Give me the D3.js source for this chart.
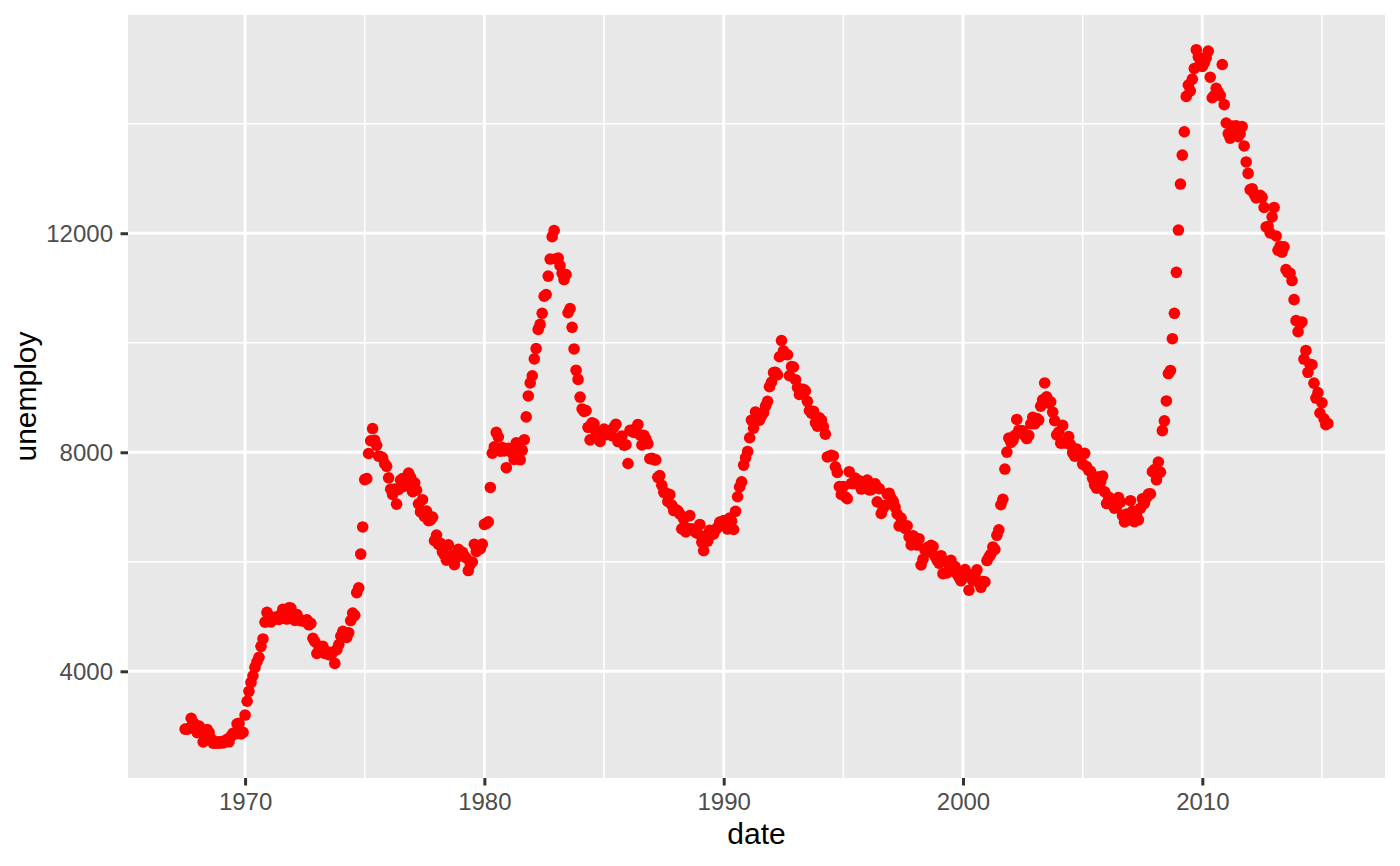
<!DOCTYPE html>
<html>
<head>
<meta charset="utf-8">
<script src="https://cdn.jsdelivr.net/npm/d3@7"></script>
<style>
  html, body { margin: 0; padding: 0; background: #ffffff; }
  svg { display: block; }
  text { font-family: "Liberation Sans", Arial, Helvetica, sans-serif; }
</style>
</head>
<body>
<svg id="chart" width="1400" height="866"></svg>
<script>
// ---- data: US unemployment (thousands), monthly, starting July 1967 ----
const startYear = 1967;
const startMonth = 7; // July
const unemploy = [
  /*1967*/ 2944, 2945, 2958, 3143, 3066, 3018,
  /*1968*/ 2878, 3001, 2877, 2709, 2740, 2938, 2883, 2768, 2686, 2689, 2715, 2685,
  /*1969*/ 2718, 2692, 2712, 2758, 2713, 2816, 2868, 2856, 3040, 3049, 2856, 2884,
  /*1970*/ 3201, 3453, 3635, 3797, 3919, 4071, 4175, 4256, 4456, 4591, 4898, 5076,
  /*1971*/ 4986, 4903, 4987, 4959, 4996, 4949, 5035, 5134, 5042, 4954, 5161, 5154,
  /*1972*/ 5019, 4928, 5038, 4959, 4922, 4923, 4913, 4939, 4849, 4875, 4602, 4543,
  /*1973*/ 4326, 4452, 4394, 4459, 4329, 4363, 4305, 4305, 4350, 4144, 4396, 4489,
  /*1974*/ 4644, 4731, 4634, 4618, 4705, 4927, 5063, 5022, 5437, 5523, 6140, 6636,
  /*1975*/ 7501, 7520, 7978, 8210, 8433, 8220, 8127, 7928, 7923, 7897, 7794, 7744,
  /*1976*/ 7534, 7326, 7230, 7330, 7053, 7322, 7490, 7518, 7380, 7430, 7620, 7545,
  /*1977*/ 7280, 7443, 7307, 7059, 6911, 7134, 6829, 6925, 6751, 6763, 6815, 6386,
  /*1978*/ 6489, 6318, 6337, 6180, 6127, 6028, 6309, 6080, 6125, 5947, 6077, 6228,
  /*1979*/ 6109, 6173, 6109, 6069, 5840, 5959, 5996, 6320, 6190, 6296, 6238, 6325,
  /*1980*/ 6683, 6702, 6729, 7358, 7984, 8098, 8363, 8281, 8021, 8088, 8023, 7718,
  /*1981*/ 8071, 8051, 7982, 7869, 8174, 8098, 7863, 8036, 8230, 8646, 9029, 9267,
  /*1982*/ 9397, 9705, 9895, 10244, 10335, 10538, 10849, 10881, 11217, 11529, 11938, 12051,
  /*1983*/ 11534, 11545, 11408, 11268, 11154, 11246, 10548, 10623, 10282, 9887, 9499, 9331,
  /*1984*/ 9008, 8791, 8746, 8762, 8456, 8226, 8537, 8519, 8367, 8381, 8198, 8358,
  /*1985*/ 8423, 8321, 8339, 8395, 8302, 8460, 8513, 8196, 8248, 8298, 8128, 8138,
  /*1986*/ 7795, 8402, 8383, 8364, 8439, 8508, 8319, 8135, 8310, 8243, 8159, 7883,
  /*1987*/ 7892, 7865, 7862, 7542, 7574, 7398, 7268, 7261, 7102, 7227, 7035, 6936,
  /*1988*/ 6953, 6929, 6876, 6601, 6779, 6546, 6605, 6843, 6604, 6568, 6537, 6518,
  /*1989*/ 6682, 6359, 6205, 6468, 6375, 6577, 6495, 6511, 6590, 6630, 6725, 6667,
  /*1990*/ 6752, 6651, 6598, 6797, 6742, 6590, 6922, 7188, 7368, 7459, 7764, 7901,
  /*1991*/ 8015, 8265, 8586, 8439, 8736, 8692, 8586, 8666, 8722, 8842, 8931, 9198,
  /*1992*/ 9283, 9454, 9460, 9415, 9744, 10040, 9850, 9787, 9781, 9398, 9565, 9557,
  /*1993*/ 9325, 9183, 9056, 9110, 9149, 9121, 8930, 8763, 8714, 8750, 8542, 8477,
  /*1994*/ 8630, 8583, 8470, 8331, 7915, 7927, 7946, 7933, 7734, 7632, 7375, 7230,
  /*1995*/ 7375, 7187, 7153, 7645, 7430, 7427, 7527, 7484, 7478, 7328, 7426, 7423,
  /*1996*/ 7491, 7313, 7318, 7415, 7423, 7095, 7337, 6882, 6979, 7031, 7236, 7253,
  /*1997*/ 7158, 7102, 7000, 6873, 6655, 6799, 6655, 6608, 6656, 6454, 6308, 6476,
  /*1998*/ 6368, 6306, 6422, 5941, 6047, 6212, 6259, 6179, 6300, 6280, 6100, 6032,
  /*1999*/ 5976, 6111, 5783, 6004, 5796, 5951, 6025, 5838, 5915, 5778, 5716, 5653,
  /*2000*/ 5708, 5858, 5733, 5481, 5758, 5651, 5747, 5853, 5625, 5534, 5639, 5634,
  /*2001*/ 6023, 6089, 6141, 6271, 6226, 6484, 6583, 7042, 7142, 7694, 8003, 8258,
  /*2002*/ 8182, 8215, 8304, 8599, 8399, 8393, 8390, 8304, 8251, 8307, 8520, 8640,
  /*2003*/ 8520, 8618, 8588, 8842, 8957, 9266, 9011, 8896, 8921, 8732, 8576, 8317,
  /*2004*/ 8370, 8167, 8491, 8170, 8212, 8286, 8136, 7990, 7927, 8061, 7932, 7934,
  /*2005*/ 7784, 7980, 7737, 7672, 7651, 7524, 7406, 7345, 7553, 7453, 7566, 7279,
  /*2006*/ 7064, 7184, 7072, 7120, 6980, 7001, 7175, 7091, 6847, 6727, 6872, 6762,
  /*2007*/ 7116, 6927, 6731, 6850, 6766, 6979, 7149, 7067, 7170, 7237, 7240, 7645,
  /*2008*/ 7685, 7497, 7822, 7637, 8395, 8575, 8937, 9438, 9494, 10074, 10538, 11286,
  /*2009*/ 12058, 12898, 13426, 13853, 14499, 14707, 14601, 14814, 15009, 15352, 15219, 15098,
  /*2010*/ 15046, 15113, 15202, 15325, 14849, 14474, 14512, 14648, 14579, 14516, 15081, 14348,
  /*2011*/ 14013, 13820, 13737, 13957, 13855, 13962, 13763, 13818, 13948, 13594, 13302, 13093,
  /*2012*/ 12797, 12813, 12713, 12646, 12660, 12692, 12656, 12471, 12115, 12124, 12005, 12298,
  /*2013*/ 12471, 11950, 11689, 11760, 11654, 11751, 11335, 11279, 11270, 11136, 10787, 10404,
  /*2014*/ 10202, 10349, 10380, 9702, 9859, 9460, 9608, 9599, 9262, 8990, 9090, 8717,
  /*2015*/ 8903, 8610, 8504, 8526
];
const xMajorTicks = [1970, 1980, 1990, 2000, 2010];
const xMinorTicks = [1965, 1975, 1985, 1995, 2005, 2015];
const yMajorTicks = [4000, 8000, 12000];
const yMinorTicks = [2000, 6000, 10000, 14000];
const xTitle = "date";
const yTitle = "unemploy";

// ---- build records ----
const data = unemploy.map((v, i) => ({
  date: new Date(Date.UTC(startYear, startMonth - 1 + i, 1)),
  unemploy: v
}));

// ---- layout ----
const svg = d3.select("#chart");
const panel = { left: 128, right: 1385, top: 15, bottom: 778 };

const xExt = d3.extent(data, d => +d.date);
const xPad = (xExt[1] - xExt[0]) * 0.05;
const x = d3.scaleUtc()
  .domain([new Date(xExt[0] - xPad), new Date(xExt[1] + xPad)])
  .range([panel.left, panel.right]);

const yExt = d3.extent(data, d => d.unemploy);
const yPad = (yExt[1] - yExt[0]) * 0.05;
const y = d3.scaleLinear()
  .domain([yExt[0] - yPad, yExt[1] + yPad])
  .range([panel.bottom, panel.top]);

const yr = v => new Date(Date.UTC(v, 0, 1));
const inX = v => +yr(v) >= +x.domain()[0] && +yr(v) <= +x.domain()[1];
const inY = v => v >= y.domain()[0] && v <= y.domain()[1];

// panel background
svg.append("rect")
  .attr("x", panel.left).attr("y", panel.top)
  .attr("width", panel.right - panel.left)
  .attr("height", panel.bottom - panel.top)
  .attr("fill", "#E8E8E8");

const grid = svg.append("g");
// minor grid
grid.selectAll("line.ymin").data(yMinorTicks.filter(inY)).join("line")
  .attr("x1", panel.left).attr("x2", panel.right)
  .attr("y1", d => y(d)).attr("y2", d => y(d))
  .attr("stroke", "#ffffff").attr("stroke-width", 1.5);
grid.selectAll("line.xmin").data(xMinorTicks.filter(inX)).join("line")
  .attr("y1", panel.top).attr("y2", panel.bottom)
  .attr("x1", d => x(yr(d))).attr("x2", d => x(yr(d)))
  .attr("stroke", "#ffffff").attr("stroke-width", 1.5);
// major grid
grid.selectAll("line.ymaj").data(yMajorTicks).join("line")
  .attr("x1", panel.left).attr("x2", panel.right)
  .attr("y1", d => y(d)).attr("y2", d => y(d))
  .attr("stroke", "#ffffff").attr("stroke-width", 3);
grid.selectAll("line.xmaj").data(xMajorTicks).join("line")
  .attr("y1", panel.top).attr("y2", panel.bottom)
  .attr("x1", d => x(yr(d))).attr("x2", d => x(yr(d)))
  .attr("stroke", "#ffffff").attr("stroke-width", 3);

// points
svg.append("g").selectAll("circle").data(data).join("circle")
  .attr("cx", d => x(d.date))
  .attr("cy", d => y(d.unemploy))
  .attr("r", 5.8)
  .attr("fill", "#FF0000");

// x axis
const xAxis = d3.axisBottom(x)
  .tickValues(xMajorTicks.map(yr))
  .tickFormat(d3.utcFormat("%Y"))
  .tickSize(7.5)
  .tickPadding(7);
const gx = svg.append("g")
  .attr("transform", `translate(0,${panel.bottom})`)
  .call(xAxis);
gx.select(".domain").remove();
gx.selectAll(".tick line").attr("stroke", "#333333").attr("stroke-width", 3);
gx.selectAll(".tick text")
  .attr("fill", "#4D4D4D")
  .style("font-size", "24px")
  .attr("y", 32).attr("dy", null);

// y axis
const yAxis = d3.axisLeft(y)
  .tickValues(yMajorTicks)
  .tickFormat(d3.format("d"))
  .tickSize(7.5)
  .tickPadding(7);
const gy = svg.append("g")
  .attr("transform", `translate(${panel.left},0)`)
  .call(yAxis);
gy.select(".domain").remove();
gy.selectAll(".tick line").attr("stroke", "#333333").attr("stroke-width", 3);
gy.selectAll(".tick text")
  .attr("fill", "#4D4D4D")
  .style("font-size", "24px")
  .attr("x", -15)
  .attr("dy", "0.35em");

// axis titles
svg.append("text")
  .attr("x", (panel.left + panel.right) / 2)
  .attr("y", 844)
  .attr("text-anchor", "middle")
  .attr("fill", "#000000")
  .style("font-size", "30px")
  .text(xTitle);

svg.append("text")
  .attr("transform", `translate(36,${(panel.top + panel.bottom) / 2}) rotate(-90)`)
  .attr("text-anchor", "middle")
  .attr("fill", "#000000")
  .style("font-size", "30px")
  .text(yTitle);
</script>
</body>
</html>
